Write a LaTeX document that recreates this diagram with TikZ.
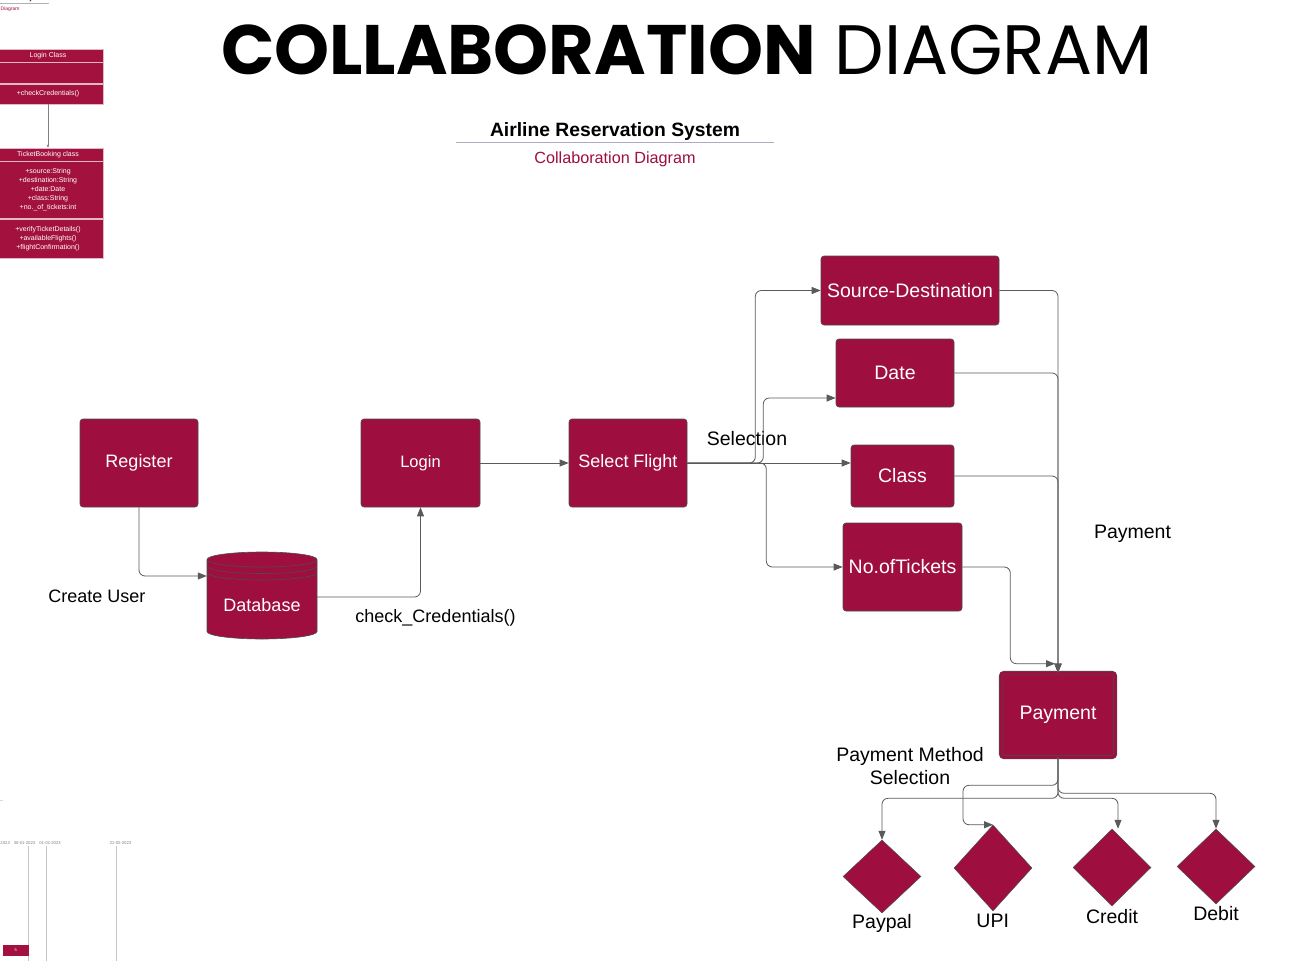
\documentclass[tikz,border=0pt]{standalone}
\usepackage{fontspec}
\setmainfont{Liberation Sans}
\newfontfamily\titlefont{Poppins}
\usetikzlibrary{arrows.meta,positioning,calc,shapes.geometric}
\definecolor{crimson}{HTML}{9E0F40}
\definecolor{umlred}{HTML}{A3113F}
\definecolor{edgegray}{HTML}{4D4D4D}
\definecolor{linegray}{HTML}{5A5A5A}
\definecolor{rulegray}{HTML}{A7AEBF}

\begin{document}
\begin{tikzpicture}[x=1pt,y=-1pt,>={Triangle[length=9pt,width=7pt]},
  box/.style={draw=edgegray,fill=crimson,rounded corners=3pt,line width=0.6pt,text=white,inner sep=0pt,font=\fontsize{19.5}{19.5}\selectfont},
  flow/.style={->,draw=linegray,line width=0.8pt,rounded corners=6pt},
  choice/.style={diamond,draw=edgegray,fill=crimson,line width=0.5pt,inner sep=0pt,minimum width=78pt},
  lbl/.style={font=\fontsize{19.5}{23.5}\selectfont,align=center,inner sep=0pt},
  umlrow/.style={fill=umlred,draw=white!70!umlred,line width=0.5pt,text=white,inner sep=0pt,minimum width=110pt,font=\fontsize{7}{9}\selectfont,align=center},
  tiny/.style={font=\fontsize{4.2}{5}\selectfont,text=gray,inner sep=0pt}]
\fill[white] (0,0) rectangle (1304,961);
\useasboundingbox (0,0) rectangle (1304,961);

% leftovers of the class diagram page
\node[font=\bfseries\fontsize{6}{6}\selectfont,anchor=base east,inner sep=0pt] (oldtitle) at (47,1) {Airline Reservation System};
\draw[gray!60,line width=0.6pt] (0,3.5) -- (49,3.5);
\node[text=crimson,font=\fontsize{5}{5}\selectfont,anchor=base west,inner sep=0pt] (oldsub) at (0.5,10.5) {Diagram};
\node[umlrow,minimum height=13,font=\fontsize{7}{7}\selectfont] (loginhead) at (48,55.5) {Login Class};
\node[umlrow,minimum height=21,below=0pt of loginhead] (loginattr) {};
\node[umlrow,minimum height=20,below=0pt of loginattr] (loginops) {+checkCredentials()};
\node[umlrow,minimum height=13,font=\fontsize{7}{7}\selectfont] (bookhead) at (48,154.5) {TicketBooking class};
\node[umlrow,minimum height=57,below=0pt of bookhead] (bookattr) {+source:String\\+destination:String\\+date:Date\\+class:String\\+no.\_of\_tickets:int};
\node[umlrow,minimum height=39,below=0pt of bookattr] (bookops) {+verifyTicketDetails()\\+availableFlights()\\+flightConfirmation()};
\draw[->,>={Triangle[length=3pt,width=2.5pt]},gray,line width=0.5pt] (loginops) -- (bookhead);

% leftovers of the timeline page
\draw[gray!30,line width=0.6pt] (0,800.5) -- (3,800.5);
\node[tiny,anchor=west] (day0) at (0.3,843) {2023};
\node[tiny] (day1) at (24.5,843) {30-01-2023};
\node[tiny] (day2) at (50,843) {01-02-2023};
\node[tiny] (day3) at (120.5,843) {21-02-2023};
\foreach \x in {28.5,46,116.5}
  \draw[gray!45,line width=0.6pt] (\x,846) -- (\x,961);
\node[fill=umlred,minimum width=26,minimum height=11,inner sep=0pt,text=white,font=\fontsize{4}{4}\selectfont] (bar) at (15.7,950.5) {5};

% titles
\node[font=\titlefont\fontsize{70}{70}\selectfont,inner sep=0pt] (title) at (687,50) {\textbf{COLLABORATION} DIAGRAM};
\node[font=\bfseries\fontsize{19.3}{19.3}\selectfont,anchor=base,inner sep=0pt] (system) at (615,136) {Airline Reservation System};
\draw[rulegray,line width=1pt] (456,142.3) -- (774,142.3);
\node[text=crimson,font=\fontsize{16.2}{16.2}\selectfont,anchor=base,inner sep=0pt] (kind) at (615,163.3) {Collaboration Diagram};

% objects
\node[box,font=\fontsize{18}{18}\selectfont,minimum width=118,minimum height=88] (register) at (139,463) {Register};
\node[box,font=\fontsize{16.5}{16.5}\selectfont,minimum width=119,minimum height=88] (login) at (420.5,463) {Login};
\node[box,font=\fontsize{18}{18}\selectfont,minimum width=118,minimum height=88] (select) at (628,463) {Select Flight};
\node[box,minimum width=178,minimum height=69] (srcdst) at (910,290.5) {Source-Destination};
\node[box,minimum width=118,minimum height=68] (date) at (895,373) {Date};
\node[box,minimum width=103,minimum height=62] (class) at (902.5,476) {Class};
\node[box,minimum width=119,minimum height=88] (tickets) at (902.5,567) {No.ofTickets};
\node[box,double=crimson,double distance=3pt,minimum width=114,minimum height=84] (payment) at (1058,715) {Payment};

% database
\fill[crimson] (207,559.5) -- (207,631.5) arc[start angle=180,end angle=360,x radius=55pt,y radius=7.5pt]
  -- (317,559.5) arc[start angle=0,end angle=180,x radius=55pt,y radius=7.5pt] -- cycle;
\draw[edgegray,line width=0.6pt] (207,559.5) -- (207,631.5) arc[start angle=180,end angle=360,x radius=55pt,y radius=7.5pt]
  -- (317,559.5) arc[start angle=0,end angle=180,x radius=55pt,y radius=7.5pt];
\foreach \y in {559.5,566,572.5}
  \draw[edgegray,line width=0.6pt] (207,\y) arc[start angle=180,end angle=360,x radius=55pt,y radius=7.5pt];
\node[text=white,font=\fontsize{18}{18}\selectfont,minimum width=110,minimum height=60,inner sep=0pt] (db) at (262,605) {Database};

% payment methods
\node[choice,minimum height=73] (paypal) at (882,876.5) {};
\node[choice,minimum height=86] (upi) at (993,868) {};
\node[choice,minimum height=77] (credit) at (1112,867.5) {};
\node[choice,minimum height=75] (debit) at (1216,866.5) {};
\node[lbl,anchor=base] (paypalname) at (882,928.7) {Paypal};
\node[lbl,anchor=base] (upiname) at (992.7,927.3) {UPI};
\node[lbl,anchor=base] (creditname) at (1112,923.3) {Credit};
\node[lbl,anchor=base] (debitname) at (1216,920.7) {Debit};

% message labels
\node[lbl,font=\fontsize{18}{18}\selectfont,anchor=base] (createmsg) at (97,602) {Create User};
\node[lbl,font=\fontsize{18}{18}\selectfont,anchor=base] (checkmsg) at (435.5,622.3) {check\_Credentials()};
\node[lbl,anchor=base] (selectmsg) at (747,445.7) {Selection};
\node[lbl,anchor=base] (paymsg) at (1132.5,538) {Payment};
\node[lbl] (methodmsg) at (910,766) {Payment Method\\Selection};

% messages
\draw[flow] (register.south) |- ($(db.west)+(0,-29)$);
\draw[flow] ($(db.east)+(0,-8)$) -| (login.south);
\draw[flow] (login) -- (select);
\draw[flow] (select.east) -- ++(68,0) |- (srcdst.west);
\draw[flow] (select.east) -- ++(76,0) |- ($(date.west)+(0,25)$);
\draw[flow] (select.east) -- (select.east -| class.west);
\draw[flow] (select.east) -- ++(79,0) |- (tickets.west);
\draw[flow] (srcdst.east) -| (payment.north);
\draw[flow] (date.east) -| (payment.north);
\draw[flow] (class.east) -| (payment.north);
\draw[flow] (tickets.east) -- ++(48,0) |- ($(payment.north)+(-3,-9)$);
\draw[flow] (payment.south) -- ++(0,41) -| (paypal.north);
\draw[flow] (payment.south) -- ++(0,28) -| ($(upi.north)+(-30,0)$) -- (upi.north);
\draw[flow] (payment.south) -- ++(0,41) -| ($(credit.north)+(6,0)$);
\draw[flow] (payment.south) -- ++(0,36) -| (debit.north);
\end{tikzpicture}
\end{document}
